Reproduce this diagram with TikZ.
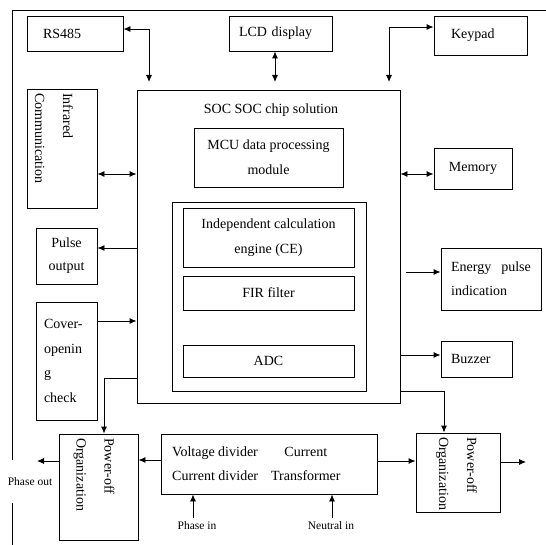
\documentclass[tikz,border=0pt]{standalone}
\usepackage{fontspec}
\setmainfont{Liberation Serif}
\usetikzlibrary{arrows.meta}
\begin{document}
\begin{tikzpicture}[x=1pt,y=-1pt,
  box/.style={draw, line width=0.9pt, rectangle, inner sep=0pt, font=\fontsize{14}{25}\selectfont},
  txt/.style={font=\fontsize{14}{24}\selectfont, inner sep=0pt},
  rtxt/.style={font=\fontsize{14}{28}\selectfont, inner sep=0pt, rotate=-90, anchor=west, align=left},
  small/.style={font=\fontsize{11.5}{14}\selectfont},
  conn/.style={line width=0.9pt, -{Latex[length=7pt,width=6pt]}},
  dconn/.style={line width=0.9pt, {Latex[length=7pt,width=6pt]}-{Latex[length=7pt,width=6pt]}},
]
\useasboundingbox (0,0) rectangle (546,545);
% frame
\coordinate (fa) at (12,545);
\coordinate (fb) at (12,10);
\coordinate (fc) at (546,10);
\draw[line width=0.9pt] (fa) -- (fb) -- (fc);

% boxes
\node[box, minimum width=96pt, minimum height=35pt, text width=64pt, align=left] (rs) at (75,33.5) {RS485};
\node[box, minimum width=103pt, minimum height=35pt, text width=83pt, align=left] (lcd) at (280.5,33.5) {LCD display};
\node[box, minimum width=93pt, minimum height=39pt, text width=59pt, align=left] (kp) at (480.5,35.5) {Keypad};
\node[box, minimum width=263pt, minimum height=313pt] (soc) at (268.5,246.5) {};
\node[txt] (soct) at (271,110.5) {SOC SOC chip solution};
\node[box, minimum width=149pt, minimum height=59pt, align=center] (mcu) at (268.5,157.5) {MCU data processing\\module};
\node[box, minimum width=70pt, minimum height=119pt] (ir) at (62,148.5) {};
\node[rtxt] (irt) at (54,93) {Infrared\\Communication};
\node[box, minimum width=78pt, minimum height=41pt] (mem) at (473,168.5) {Memory};
\node[box, minimum width=194pt, minimum height=189pt] (inner) at (269,296.5) {};
\node[box, minimum width=171pt, minimum height=59pt, align=center] (ce) at (268.5,237.5) {Independent calculation\\engine (CE)};
\node[box, minimum width=171pt, minimum height=34pt] (fir) at (268.5,293) {FIR filter};
\node[box, minimum width=171pt, minimum height=32pt] (adc) at (268.5,361) {ADC};
\node[box, minimum width=61pt, minimum height=56pt, align=center, font=\fontsize{14}{23}\selectfont] (pulse) at (66.5,256) {Pulse\\output};
\node[box, minimum width=61pt, minimum height=118pt, text width=45pt, align=left, font=\fontsize{14}{24.5}\selectfont] (cov) at (66.5,361) {Cover-\\openin\\g\\check};
\node[box, minimum width=79pt, minimum height=106pt] (pl) at (98.5,487) {};
\node[rtxt] (plt) at (94,438) {Power-off\\Organization};
\node[box, minimum width=216pt, minimum height=60pt] (vd) at (269,464) {};
\node[txt, anchor=west] (vdt) at (172,464) {\begin{tabular}{@{}l@{\hspace{13pt}}c@{}}Voltage divider & Current\\ Current divider & Transformer\end{tabular}};
\node[box, minimum width=84pt, minimum height=79pt] (pr) at (458,472.5) {};
\node[rtxt] (prt) at (456.5,437) {Power-off\\Organization};
\node[box, minimum width=100pt, minimum height=62pt, align=left, font=\fontsize{14}{24}\selectfont] (en) at (491,279) {Energy\hspace{10pt}pulse\\indication};
\node[box, minimum width=71pt, minimum height=36pt, text width=51pt, align=left] (bz) at (476.5,359) {Buzzer};

% labels
\node[small, fill=white, minimum width=46pt, minimum height=43pt, inner sep=0pt] (pout) at (30,481.5) {Phase out};
\node[small] (pin) at (197,526) {Phase in};
\node[small] (nin) at (331,526) {Neutral in};

% helper coordinates
\coordinate (rsend) at (149,82);
\coordinate (lcdend) at (275,82);
\coordinate (kpend) at (389,82);
\coordinate (y174) at (0,174);
\coordinate (y248) at (0,248);
\coordinate (y321) at (0,321);
\coordinate (y378) at (0,378);
\coordinate (y391) at (0,391);
\coordinate (y460) at (0,460);
\coordinate (y461) at (0,461);
\coordinate (y462) at (0,462);
\coordinate (y355) at (0,355);
\coordinate (x104) at (104,0);
\coordinate (x444) at (444,0);
\coordinate (x193) at (193,0);
\coordinate (x332) at (332,0);
\coordinate (phout) at (37,461);
\coordinate (rout) at (526,462);
\coordinate (enstart) at (406,272);

% connectors
\draw[dconn] ([yshift=4.5pt]rs.east) -| (rsend);
\draw[dconn] (lcd.south -| lcdend) -- (lcdend);
\draw[dconn] ([yshift=8.5pt]kp.west) -| (kpend);
\draw[dconn] (ir.east |- y174) -- (soc.west |- y174);
\draw[dconn] (soc.east |- y174) -- (mem.west |- y174);
\draw[conn] (soc.west |- y248) -- (pulse.east |- y248);
\draw[conn] (cov.east |- y321) -- (soc.west |- y321);
\draw[conn] (soc.west |- y378) -| (pl.north -| x104);
\draw[conn] (soc.east |- y391) -| (pr.north -| x444);
\draw[conn] (vd.west |- y460) -- (pl.east |- y460);
\draw[conn] (vd.east |- y461) -- (pr.west |- y461);
\draw[conn] (pl.west |- y461) -- (phout);
\draw[conn] (pr.east |- y462) -- (rout);
\draw[conn] (pin.north -| x193) -- (vd.south -| x193);
\draw[conn] (nin.north -| x332) -- (vd.south -| x332);
\draw[conn] (enstart) -- (en.west |- enstart);
\draw[conn] (soc.east |- y355) -- (bz.west |- y355);
\end{tikzpicture}
\end{document}
